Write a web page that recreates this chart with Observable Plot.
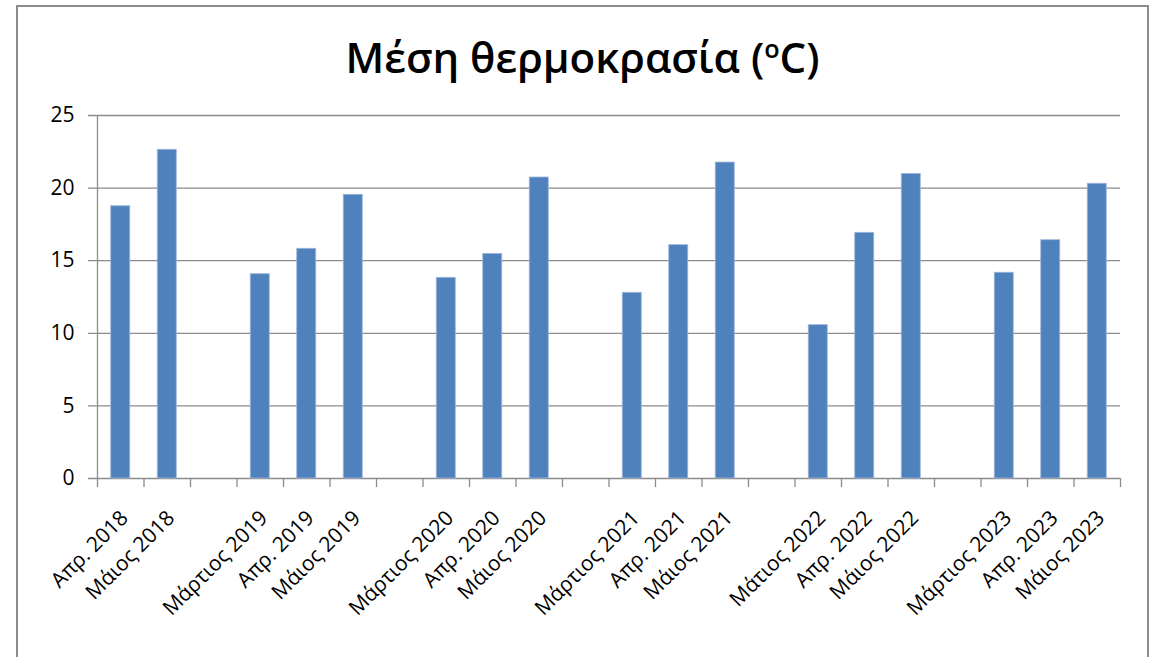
<!DOCTYPE html>
<html>
<head>
<meta charset="utf-8">
<script src="https://cdn.jsdelivr.net/npm/d3@7"></script>
<script src="https://cdn.jsdelivr.net/npm/@observablehq/plot@0.6"></script>
<style>
  html, body { margin: 0; padding: 0; background: #fff; }
  #frame {
    position: absolute; left: 16px; top: 5px; width: 1129px; height: 680px;
    border: 2px solid #8c8c8c; border-bottom: none; background: #fff;
  }
  #title {
    height: 93px; line-height: 100px; text-align: center;
    font-family: "Open Sans", sans-serif; font-weight: 600; font-size: 42px; color: #000;
    white-space: nowrap;
  }
  #title sup { font-size: 0.6em; vertical-align: 0; position: relative; top: -0.6em; }
  #chart svg { display: block; }
</style>
</head>
<body>
<div id="frame">
  <div id="title">Μέση θερμοκρασία (<sup>o</sup>C)</div>
  <div id="chart"></div>
</div>
<script>
const categories = [
  "Απρ. 2018", "Μάιος 2018", "",
  "Μάρτιος 2019", "Απρ. 2019", "Μάιος 2019", "",
  "Μάρτιος 2020", "Απρ. 2020", "Μάιος 2020", "",
  "Μάρτιος 2021", "Απρ. 2021", "Μάιος 2021", "",
  "Μάτιος 2022", "Απρ. 2022", "Μάιος 2022", "",
  "Μάρτιος 2023", "Απρ. 2023", "Μάιος 2023"
];
const values = [
  18.75, 22.64, null,
  14.07, 15.82, 19.54, null,
  13.82, 15.47, 20.73, null,
  12.79, 16.07, 21.76, null,
  10.56, 16.92, 20.98, null,
  14.17, 16.41, 20.3
];
const yTicks = [0, 5, 10, 15, 20, 25];

const n = categories.length;
const data = categories.map((c, i) => ({i, c, v: values[i]})).filter(d => d.v != null);
const labelPositions = d3.range(n).filter(i => categories[i] !== "").map(i => i + 0.58);
const boundaries = d3.range(n + 1);

const width = 1129, height = 557;
const marginLeft = 79, marginRight = 27, marginTop = 15, marginBottom = 179;
const frameH = height - marginTop - marginBottom;
const tickLen = 9 * 25 / frameH; // 9px below the axis, in data units

const gray = "#8c8c8c";

const chart = Plot.plot({
  width, height, marginLeft, marginRight, marginTop, marginBottom,
  style: {fontFamily: "Open Sans, sans-serif", fontSize: "21px", color: "#000", background: "#fff"},
  x: {
    type: "linear", domain: [0, n], ticks: labelPositions,
    tickFormat: d => categories[Math.floor(d)],
    tickRotate: -45, tickSize: 0, tickPadding: 36, label: null
  },
  y: {domain: [0, 25], ticks: yTicks, tickSize: 0, tickPadding: 23, label: null},
  marks: [
    Plot.ruleY(yTicks, {stroke: gray, strokeWidth: 1.3, insetLeft: -9}),
    Plot.ruleX([0], {stroke: gray, strokeWidth: 1.3}),
    Plot.ruleX(boundaries, {y1: 0, y2: -tickLen, stroke: gray, strokeWidth: 1.3}),
    Plot.rectY(data, {
      x1: "i", x2: d => d.i + 1, y: "v",
      insetLeft: 13.75, insetRight: 13.75,
      fill: "#4f81bd", stroke: "#9db6da", strokeWidth: 0.8
    })
  ]
});
document.getElementById("chart").appendChild(chart);
</script>
</body>
</html>
